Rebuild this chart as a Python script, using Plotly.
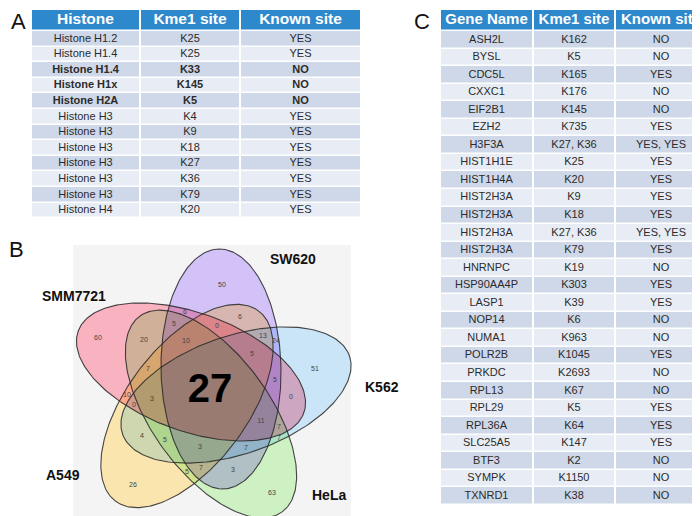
import numpy as np
import plotly.graph_objects as go

# ---------------- Data ----------------
# Panel A table
headers_a = ["Histone", "Kme1 site", "Known site"]
histone = ["Histone H1.2", "Histone H1.4", "Histone H1.4", "Histone H1x", "Histone H2A",
           "Histone H3", "Histone H3", "Histone H3", "Histone H3", "Histone H3",
           "Histone H3", "Histone H4"]
histone_site = ["K25", "K25", "K33", "K145", "K5", "K4", "K9", "K18", "K27", "K36", "K79", "K20"]
histone_known = ["YES", "YES", "NO", "NO", "NO", "YES", "YES", "YES", "YES", "YES", "YES", "YES"]

# Panel C table
headers_c = ["Gene Name", "Kme1 site", "Known site"]
genes = ["ASH2L", "BYSL", "CDC5L", "CXXC1", "EIF2B1", "EZH2", "H3F3A", "HIST1H1E", "HIST1H4A",
         "HIST2H3A", "HIST2H3A", "HIST2H3A", "HIST2H3A", "HNRNPC", "HSP90AA4P", "LASP1", "NOP14",
         "NUMA1", "POLR2B", "PRKDC", "RPL13", "RPL29", "RPL36A", "SLC25A5", "BTF3", "SYMPK", "TXNRD1"]
gene_site = ["K162", "K5", "K165", "K176", "K145", "K735", "K27, K36", "K25", "K20", "K9", "K18",
             "K27, K36", "K79", "K19", "K303", "K39", "K6", "K963", "K1045", "K2693", "K67", "K5",
             "K64", "K147", "K2", "K1150", "K38"]
gene_known = ["NO", "NO", "YES", "NO", "NO", "YES", "YES, YES", "YES", "YES", "YES", "YES",
              "YES, YES", "YES", "NO", "YES", "YES", "NO", "NO", "YES", "NO", "NO", "YES", "YES",
              "YES", "NO", "NO", "NO"]

# Panel B Venn diagram (5 sets)
set_names = ["SW620", "K562", "HeLa", "A549", "SMM7721"]
region_members = [
    "SW620", "K562", "HeLa", "A549", "SMM7721",
    "SW620&K562", "SW620&HeLa", "SW620&A549", "SW620&SMM7721", "K562&HeLa",
    "K562&A549", "K562&SMM7721", "HeLa&A549", "HeLa&SMM7721", "A549&SMM7721",
    "SW620&K562&HeLa", "SW620&K562&A549", "SW620&K562&SMM7721", "SW620&HeLa&A549",
    "SW620&HeLa&SMM7721", "SW620&A549&SMM7721", "K562&HeLa&A549", "K562&HeLa&SMM7721",
    "K562&A549&SMM7721", "HeLa&A549&SMM7721",
    "SW620&K562&HeLa&A549", "SW620&K562&HeLa&SMM7721", "SW620&K562&A549&SMM7721",
    "SW620&HeLa&A549&SMM7721", "K562&HeLa&A549&SMM7721",
    "SW620&K562&HeLa&A549&SMM7721",
]
region_counts = [50, 51, 63, 26, 60,
                 24, 3, 6, 6, 7,
                 4, 0, 5, 20, 10,
                 7, 13, 5, 7,
                 5, 0, 5, 7,
                 0, 7,
                 3, 11, 5,
                 10, 3,
                 27]

# ---------------- Style / layout ----------------
W, H = 700, 516
FONT = "Liberation Sans, Arial, sans-serif"
HEAD_BLUE = "#2e88cc"
BAND_DARK = "#cfd8e8"
BAND_LIGHT = "#e8edf5"
TXT = "#2b2b2b"

# ellipse geometry (pixel space): cx, cy, semi-major, semi-minor, angle(deg)
ell_geom = {
    "SW620":   (213, 361, 120, 60, -91),
    "K562":    (228, 387, 120, 59, -19),
    "HeLa":    (203, 406, 121, 59, 54),
    "A549":    (179, 398, 119, 60, 127),
    "SMM7721": (183, 364, 120, 59, 200),
}
# colour of each set's exclusive area (overlaps multiply)
ell_tint = {
    "SW620": (210, 194, 247),
    "K562": (202, 229, 247),
    "HeLa": (206, 241, 195),
    "A549": (250, 229, 175),
    "SMM7721": (248, 178, 192),
}
VENN_BG = 244.0
box_x0, box_y0, box_w, box_h = 65, 237, 278, 278

fig = go.Figure()


def ell_q(name, X, Y):
    cx, cy, a, b, ang = ell_geom[name]
    th = np.deg2rad(ang)
    dx, dy = X - cx, Y - cy
    u = dx * np.cos(th) + dy * np.sin(th)
    v = -dx * np.sin(th) + dy * np.cos(th)
    return u, v, (u / a) ** 2 + (v / b) ** 2


# ----- Venn fill as a multiply-blended raster on the axes -----
ss = 3
px = box_x0 + (np.arange(box_w * ss) + 0.5) / ss
py = box_y0 + (np.arange(box_h * ss) + 0.5) / ss
PX, PY = np.meshgrid(px, py)
img = np.full(PX.shape + (3,), VENN_BG)
for name in set_names:
    _, _, q = ell_q(name, PX, PY)
    fac = np.array(ell_tint[name]) / VENN_BG
    img[q < 1] *= fac
img = img.reshape(box_h, ss, box_w, ss, 3).mean(axis=(1, 3))
img = np.clip(np.round(img), 0, 255).astype(np.uint8)
fig.add_trace(go.Image(z=img, x0=box_x0 + 0.5, y0=box_y0 + 0.5, dx=1, dy=1,
                       hoverinfo="skip"))


def ellipse_pts(cx, cy, a, b, ang, n=240):
    t = np.linspace(0, 2 * np.pi, n)
    th = np.deg2rad(ang)
    x = cx + a * np.cos(t) * np.cos(th) - b * np.sin(t) * np.sin(th)
    y = cy + a * np.cos(t) * np.sin(th) + b * np.sin(t) * np.cos(th)
    return x, y


for name in set_names:
    x, y = ellipse_pts(*ell_geom[name])
    fig.add_trace(go.Scatter(x=x, y=y, mode="lines",
                             line=dict(color="rgba(40,40,40,0.85)", width=1.1),
                             hoverinfo="skip", showlegend=False))

# label positions: region centroid if it lies well inside, else deepest point
gx, gy = np.meshgrid(np.arange(60, 346, 1.0), np.arange(235, 516, 1.0))
gx = gx.ravel(); gy = gy.ravel()
inside, dist = {}, {}
for name in set_names:
    cx, cy, a, b, ang = ell_geom[name]
    u, v, q = ell_q(name, gx, gy)
    grad = 2 * np.sqrt((u / a ** 2) ** 2 + (v / b ** 2) ** 2) + 1e-9
    inside[name] = q < 1
    dist[name] = np.abs(q - 1) / grad
mind = np.min(np.vstack([dist[n] for n in set_names]), axis=0)

lab_x, lab_y, lab_t, big_x, big_y, big_t = [], [], [], [], [], []
for members, cnt in zip(region_members, region_counts):
    mem = set(members.split("&"))
    mask = np.ones_like(gx, dtype=bool)
    for n in set_names:
        mask &= inside[n] if n in mem else ~inside[n]
    if not mask.any():
        continue
    depth = np.where(mask, mind, -1)
    idx = int(np.argmax(depth))
    mx, my = gx[mask].mean(), gy[mask].mean()
    k = int(np.argmin((gx - mx) ** 2 + (gy - my) ** 2))
    if mask[k] and depth[k] >= 0.6 * depth[idx]:
        idx = k
    if len(mem) == 5:
        big_x.append(gx[idx]); big_y.append(gy[idx]); big_t.append(f"<b>{cnt}</b>")
    else:
        lab_x.append(gx[idx]); lab_y.append(gy[idx]); lab_t.append(str(cnt))

fig.add_trace(go.Scatter(x=lab_x, y=lab_y, text=lab_t, mode="text",
                         textfont=dict(family=FONT, size=7, color="#444444"),
                         hoverinfo="skip", showlegend=False))
fig.add_trace(go.Scatter(x=big_x, y=big_y, text=big_t, mode="text",
                         textfont=dict(family=FONT, size=40, color="#000000"),
                         hoverinfo="skip", showlegend=False))

# set labels
set_label_pos = {"SW620": (285, 251), "SMM7721": (66, 288), "K562": (374, 379),
                 "A549": (55, 467), "HeLa": (321, 487)}
for name in set_names:
    lx, ly = set_label_pos[name]
    fig.add_annotation(x=lx, y=ly, xref="x", yref="y", text=f"<b>{name}</b>",
                       showarrow=False, font=dict(family=FONT, size=14, color="#111"))

# panel letters
for letter, (lx, ly) in {"A": (10, 13), "B": (8, 241), "C": (414, 13)}.items():
    fig.add_annotation(x=lx, y=ly, xref="x", yref="y", text=letter, showarrow=False,
                       font=dict(family=FONT, size=22, color="#111"))


# ---------------- Tables (heatmap cells + text) ----------------
def draw_table(headers, columns, bold_rows, left, col_w, top, head_h, row_h, head_size):
    nrows = len(columns[0])
    xe = left + np.concatenate([[0], np.cumsum(col_w)])
    ye = np.concatenate([[top, top + head_h], top + head_h + row_h * np.arange(1, nrows + 1)])
    z = [[0] * len(headers)] + [[1 + (i % 2)] * len(headers) for i in range(nrows)]
    fig.add_trace(go.Heatmap(
        x=xe, y=ye, z=z, zmin=0, zmax=2, showscale=False, hoverinfo="skip",
        xgap=2, ygap=1.5,
        colorscale=[[0, HEAD_BLUE], [0.33, HEAD_BLUE], [0.34, BAND_DARK],
                    [0.66, BAND_DARK], [0.67, BAND_LIGHT], [1, BAND_LIGHT]]))
    xc = (xe[:-1] + xe[1:]) / 2
    yc = (ye[:-1] + ye[1:]) / 2
    fig.add_trace(go.Scatter(
        x=list(xc), y=[yc[0]] * len(headers), text=[f"<b>{h}</b>" for h in headers],
        mode="text", textfont=dict(family=FONT, size=head_size, color="white"),
        hoverinfo="skip", showlegend=False))
    tx, ty, tt = [], [], []
    for j, col in enumerate(columns):
        for i, val in enumerate(col):
            tx.append(xc[j]); ty.append(yc[i + 1])
            tt.append(f"<b>{val}</b>" if bold_rows[i] else val)
    fig.add_trace(go.Scatter(
        x=tx, y=ty, text=tt, mode="text",
        textfont=dict(family=FONT, size=11, color=TXT),
        hoverinfo="skip", showlegend=False))


draw_table(headers_a, [histone, histone_site, histone_known],
           [k == "NO" for k in histone_known],
           left=23, col_w=[109, 100, 121], top=2, head_h=21, row_h=15.6, head_size=15.5)
draw_table(headers_c, [genes, gene_site, gene_known],
           [False] * len(genes),
           left=432, col_w=[93, 82, 92], top=2, head_h=21, row_h=17.55, head_size=15)

fig.update_layout(
    width=W, height=H, margin=dict(l=0, r=0, t=0, b=0),
    paper_bgcolor="white", plot_bgcolor="white",
    xaxis=dict(range=[0, W], visible=False, fixedrange=True),
    yaxis=dict(range=[H, 0], visible=False, fixedrange=True),
    showlegend=False,
)

fig.write_html("out.html")
